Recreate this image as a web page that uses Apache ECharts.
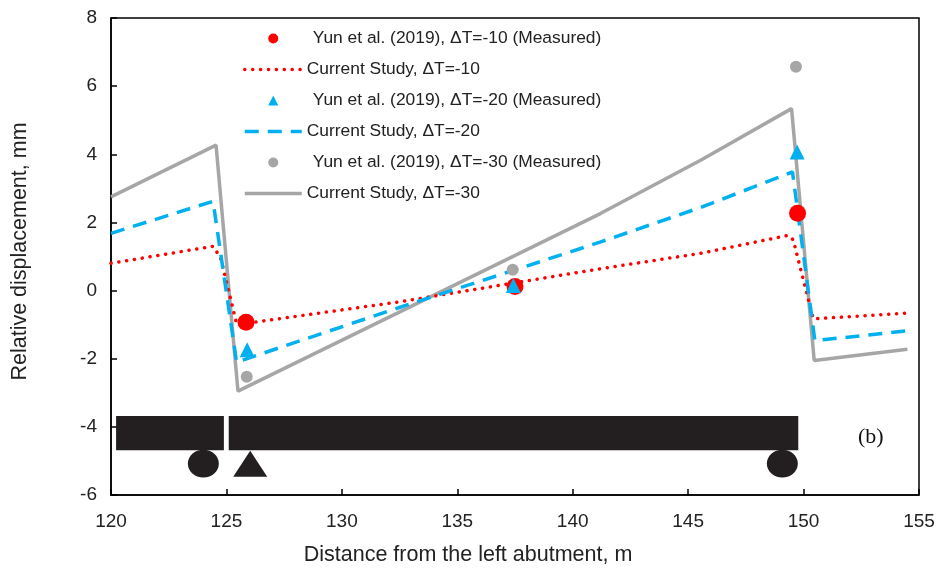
<!DOCTYPE html>
<html>
<head>
<meta charset="utf-8">
<script src="https://cdn.jsdelivr.net/npm/echarts@6/dist/echarts.min.js"></script>
<style>
  html, body { margin: 0; padding: 0; background: #fff; }
  #chart { width: 939px; height: 570px; }
</style>
</head>
<body>
<div id="chart"></div>
<script>
// Measured relative displacements (Yun et al., 2019), [distance m, displacement mm]
const measured10 = [[125.85, -0.93], [137.5, 0.12], [149.74, 2.27]];
const measured20 = [[125.9, -1.74], [137.43, 0.15], [149.72, 4.07]];
const measured30 = [[125.88, -2.53], [137.4, 0.61], [149.67, 6.57]];

// Computed profiles from the current study
const study10 = [[120, 0.80], [124.43, 1.30], [124.75, 0.95], [125.45, -1.0], [132.5, -0.33],
  [141.2, 0.64], [145.6, 1.1], [149.33, 1.62], [149.55, 1.49], [150.42, -0.83], [154.5, -0.66]];
const study20 = [[120, 1.68], [124.42, 2.62], [125.44, -2.1], [132.52, -0.49], [141.18, 1.42],
  [145.58, 2.45], [149.52, 3.48], [150.49, -1.47], [154.5, -1.18]];
const study30 = [[120, 2.75], [124.55, 4.27], [125.5, -2.95], [141.2, 2.26], [145.58, 3.84],
  [149.48, 5.34], [150.46, -2.05], [154.5, -1.72]];

// Bridge sketch: deck segments [x0, x1, yTop, yBottom], supports [x, y, kind]
const deckSegments = [[120.22, 124.89, -3.68, -4.69], [125.10, 149.77, -3.68, -4.69]];
const supports = [[124.0, -5.08, 'roller'], [126.03, -5.08, 'pin'], [149.08, -5.08, 'roller']];

// Axis settings
const xTicks = { min: 120, max: 155, interval: 5 };
const yTicks = { min: -6, max: 8, interval: 2 };

const names = [
  'Yun et al. (2019), \u0394T=-10 (Measured)',
  'Current Study, \u0394T=-10',
  'Yun et al. (2019), \u0394T=-20 (Measured)',
  'Current Study, \u0394T=-20',
  'Yun et al. (2019), \u0394T=-30 (Measured)',
  'Current Study, \u0394T=-30'
];

const RED = '#FF0000', BLUE = '#00B0F0', GRAY = '#A6A6A6';
const FONT = '"Liberation Sans", Arial, sans-serif';

const redLine = { color: RED, width: 3.5, type: [0.1, 7.8], cap: 'round' };
const blueLine = { color: BLUE, width: 3.5, type: [14, 9] };
const grayLine = { color: GRAY, width: 3.5 };

const indent = { padding: [0, 0, 0, 6] };
const hidden = { opacity: 0 };

// Legend entries: measured points get a small indent, model lines show only the stroke
const legendData = [
  { name: names[0], textStyle: indent },
  { name: names[1], itemStyle: hidden, lineStyle: redLine },
  { name: names[2], textStyle: indent, icon: 'path://M0,10L5,0L10,10Z' },
  { name: names[3], itemStyle: hidden, lineStyle: blueLine },
  { name: names[4], textStyle: indent },
  { name: names[5], itemStyle: hidden, lineStyle: grayLine }
];

const chart = echarts.init(document.getElementById('chart'), null, { renderer: 'canvas' });

chart.setOption({
  animation: false,
  backgroundColor: '#fff',
  grid: {
    left: 111, right: 20, top: 18, bottom: 75,
    outerBoundsMode: 'none', containLabel: false,
    show: true, borderColor: '#000', borderWidth: 1.5, backgroundColor: 'transparent'
  },
  legend: {
    orient: 'vertical',
    left: 238, top: 25,
    itemWidth: 57, itemHeight: 10, itemGap: 14,
    textStyle: { fontFamily: FONT, fontSize: 17.4, color: '#222', lineHeight: 17 },
    data: legendData
  },
  xAxis: {
    type: 'value', min: xTicks.min, max: xTicks.max, interval: xTicks.interval,
    name: 'Distance from the left abutment, m',
    nameLocation: 'middle', nameGap: 49,
    nameTextStyle: { fontFamily: FONT, fontSize: 21.5, color: '#222', padding: [0, 94, 0, 0] },
    axisLine: { onZero: false, lineStyle: { color: '#000', width: 1.5 } },
    axisTick: { inside: true, length: 6, lineStyle: { color: '#000', width: 1.5 } },
    axisLabel: { fontFamily: FONT, fontSize: 19, color: '#222', margin: 17 },
    splitLine: { show: false }
  },
  yAxis: {
    type: 'value', min: yTicks.min, max: yTicks.max, interval: yTicks.interval,
    name: 'Relative displacement, mm',
    nameLocation: 'middle', nameGap: 80,
    nameTextStyle: { fontFamily: FONT, fontSize: 21.5, color: '#222', padding: [0, 0, 0, 10] },
    axisLine: { onZero: false, lineStyle: { color: '#000', width: 1.5 } },
    axisTick: { inside: true, length: 6, lineStyle: { color: '#000', width: 1.5 } },
    axisLabel: { fontFamily: FONT, fontSize: 19, color: '#222', margin: 14 },
    splitLine: { show: false }
  },
  graphic: [{
    type: 'text', left: 858, top: 426, z: 100,
    style: { text: '(b)', font: '22px "Liberation Serif", "Times New Roman", serif', fill: '#111' }
  }],
  series: [
    {
      name: names[0], type: 'scatter', data: measured10, z: 5,
      symbol: 'circle', symbolSize: 17, itemStyle: { color: RED, opacity: 1 }
    },
    {
      name: names[1], type: 'line', data: study10, symbol: 'none', z: 3,
      lineStyle: redLine, itemStyle: { color: RED }
    },
    {
      name: names[2], type: 'scatter', data: measured20, z: 6,
      symbol: 'triangle', symbolSize: 15, itemStyle: { color: BLUE, opacity: 1 }
    },
    {
      name: names[3], type: 'line', data: study20, symbol: 'none', z: 3,
      lineStyle: blueLine, itemStyle: { color: BLUE }
    },
    {
      name: names[4], type: 'scatter', data: measured30, z: 6,
      symbol: 'circle', symbolSize: 12, itemStyle: { color: GRAY, opacity: 1 }
    },
    {
      name: names[5], type: 'line', data: study30, symbol: 'none', z: 2,
      lineStyle: grayLine, itemStyle: { color: GRAY }
    },
    {
      // Deck segments of the bridge sketch
      type: 'custom', silent: true, z: 1,
      data: deckSegments,
      renderItem: function (params, api) {
        const p0 = api.coord([api.value(0), api.value(2)]);
        const p1 = api.coord([api.value(1), api.value(3)]);
        return {
          type: 'rect',
          shape: { x: p0[0], y: p0[1], width: p1[0] - p0[0], height: p1[1] - p0[1] },
          style: { fill: '#231F20' }
        };
      }
    },
    {
      // Bearings below the deck
      type: 'custom', silent: true, z: 1,
      data: supports,
      renderItem: function (params, api) {
        const c = api.coord([api.value(0), api.value(1)]);
        const kind = supports[params.dataIndex][2];
        if (kind === 'pin') {
          return {
            type: 'polygon',
            shape: { points: [[c[0], c[1] - 13], [c[0] + 17, c[1] + 13], [c[0] - 17, c[1] + 13]] },
            style: { fill: '#231F20' }
          };
        }
        return {
          type: 'ellipse',
          shape: { cx: c[0], cy: c[1], rx: 15.5, ry: 13.8 },
          style: { fill: '#231F20' }
        };
      }
    }
  ]
});
</script>
</body>
</html>
